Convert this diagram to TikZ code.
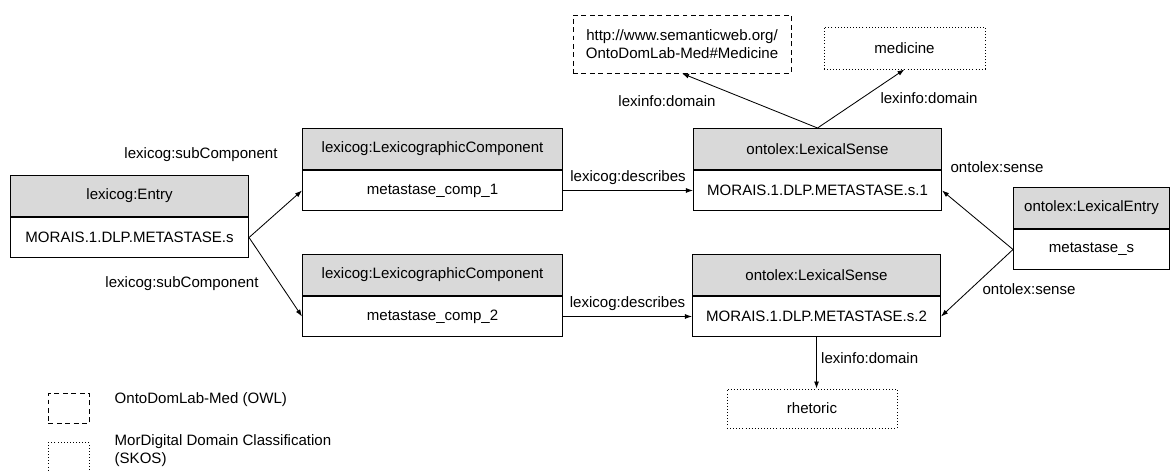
\documentclass[tikz,border=0pt]{standalone}
\usepackage{fontspec}
\setmainfont{Liberation Sans}
\usetikzlibrary{arrows.meta,positioning}
\definecolor{headgray}{HTML}{D9D9D9}

\begin{document}
\begin{tikzpicture}[x=0.025cm,y=-0.025cm,
        font=\fontsize{10.7}{12.8}\selectfont,
        node distance=0pt,
        head/.style={draw, fill=headgray, line width=0.7pt, minimum height=1.025cm, inner sep=2pt},
        body/.style={draw, fill=white, line width=0.7pt, minimum height=1.0cm, inner sep=2pt},
        owlbox/.style={draw, line width=0.6pt, dash pattern=on 3.5pt off 2.5pt, align=center},
        skosbox/.style={draw, line width=0.6pt, dash pattern=on 0.6pt off 1.6pt, align=center},
        rel/.style={-{Latex[length=5pt,width=3.5pt]}, line width=0.6pt},
        lbl/.style={inner sep=1pt}]
    \useasboundingbox (0,0) rectangle (1170,472);

    % class boxes
    \node[head, minimum width=5.95cm, anchor=north west] (entryH) at (10,175)  {lexicog:Entry};
    \node[body, minimum width=5.95cm, below=of entryH]   (entryB)              {MORAIS.1.DLP.METASTASE.s};
    \node[head, minimum width=6.5cm, anchor=north west]  (comp1H) at (302,128) {lexicog:LexicographicComponent};
    \node[body, minimum width=6.5cm, below=of comp1H]    (comp1B)              {metastase\_comp\_1};
    \node[head, minimum width=6.5cm, anchor=north west]  (comp2H) at (302,254) {lexicog:LexicographicComponent};
    \node[body, minimum width=6.5cm, below=of comp2H]    (comp2B)              {metastase\_comp\_2};
    \node[head, minimum width=6.2cm, anchor=north west]  (sense1H) at (693,128) {ontolex:LexicalSense};
    \node[body, minimum width=6.2cm, below=of sense1H]   (sense1B)              {MORAIS.1.DLP.METASTASE.s.1};
    \node[head, minimum width=6.2cm, anchor=north west]  (sense2H) at (692,254) {ontolex:LexicalSense};
    \node[body, minimum width=6.2cm, below=of sense2H]   (sense2B)              {MORAIS.1.DLP.METASTASE.s.2};
    \node[head, minimum width=3.9cm, anchor=north west]  (lexH) at (1013,187)  {ontolex:LexicalEntry};
    \node[body, minimum width=3.9cm, below=of lexH]      (lexB)                {metastase\_s};

    % domain boxes
    \node[owlbox, minimum width=5.45cm, minimum height=1.45cm] (url) at (682,44)
        {http://www.semanticweb.org/\\OntoDomLab-Med\#Medicine};
    \node[skosbox, minimum width=4.025cm, minimum height=1.05cm] (med) at (904.5,48) {medicine};
    \node[skosbox, minimum width=4.25cm, minimum height=0.975cm] (rhet) at (812,408.5) {rhetoric};

    % relations
    \path
        (entryB.east) edge [rel] (comp1B.west)
                      edge [rel] (comp2B.west)
        (comp1B) edge [rel] node[above, lbl, yshift=3pt] {lexicog:describes} (sense1B)
        (comp2B) edge [rel] node[above, lbl, yshift=3pt] {lexicog:describes} (sense2B)
        (sense1H.north) edge [rel] (url.south)
                        edge [rel] (med.south)
        (sense2B.south) edge [rel] node[right, lbl, xshift=2pt, pos=0.4] {lexinfo:domain} (sense2B.south |- rhet.north)
        (lexB.west) edge [rel] (sense1B.east)
                    edge [rel] (sense2B.east)
        ;

    % labels
    \node[lbl] (subc1) at (201,155) {lexicog:subComponent};
    \node[lbl] (subc2) at (182,284) {lexicog:subComponent};
    \node[lbl] (dom1)  at (667,101) {lexinfo:domain};
    \node[lbl] (dom2)  at (929,98)  {lexinfo:domain};
    \node[lbl] (sns1)  at (997,167) {ontolex:sense};
    \node[lbl] (sns2)  at (1029,289) {ontolex:sense};

    % legend
    \node[owlbox, minimum width=1.025cm, minimum height=0.75cm, anchor=north west] (keyowl) at (48,393) {};
    \node[skosbox, minimum width=1.025cm, minimum height=0.75cm, anchor=north west] (keyskos) at (48,442) {};
    \node[lbl, anchor=west] (txtowl) at (113,400) {OntoDomLab-Med (OWL)};
    \node[lbl, anchor=north west, align=left] (txtskos) at (113,433)
        {MorDigital Domain Classification\\(SKOS)};
\end{tikzpicture}
\end{document}
